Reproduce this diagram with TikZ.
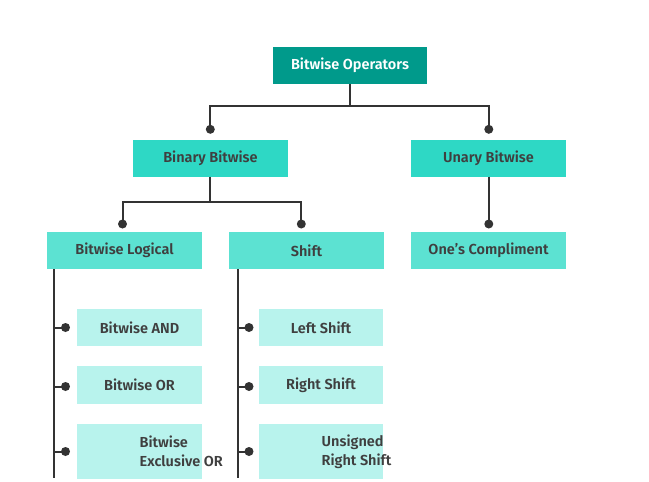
\documentclass[tikz,border=0pt]{standalone}
\usepackage{fontspec}
\setmainfont{Fira Sans}[BoldFont={Fira Sans SemiBold}]
\definecolor{topc}{HTML}{009A8B}
\definecolor{lvone}{HTML}{2ED8C5}
\definecolor{lvtwo}{HTML}{5CE2D2}
\definecolor{lvthree}{HTML}{B8F3ED}
\definecolor{txtgray}{HTML}{3F3F3F}
\definecolor{linegray}{HTML}{333333}
\tikzset{
  box/.style={draw=none, inner sep=0pt, minimum width=155pt, minimum height=37pt,
    font=\bfseries\fontsize{14.5}{17}\selectfont, text=txtgray},
  topbox/.style={box, fill=topc, text=white, minimum width=154pt},
  onebox/.style={box, fill=lvone},
  twobox/.style={box, fill=lvtwo},
  leafbox/.style={box, fill=lvthree, minimum width=125pt},
  conn/.style={draw=linegray, line width=2pt},
  dotn/.style={circle, fill=linegray, inner sep=0pt, minimum size=9pt},
  leaftext/.style={inner sep=0pt, align=left, anchor=west,
    font=\bfseries\fontsize{14.5}{19}\selectfont, text=txtgray}
}
\begin{document}
\begin{tikzpicture}[x=1pt, y=-1pt]
\useasboundingbox (0,0) rectangle (649,482);
% boxes
\node[topbox] (top) at (350,65.5) {Bitwise Operators};
\node[onebox] (bin) at (210.5,158) {Binary Bitwise};
\node[onebox] (una) at (488.5,158) {Unary Bitwise};
\node[twobox] (log) at (124.5,250.5) {Bitwise Logical};
\node[twobox] (shf) at (306.5,250.5) {Shift};
\node[twobox] (one) at (488.5,250.5) {One’s Compliment};
\node[leafbox] (band) at (139.5,327.5) {Bitwise AND};
\node[leafbox, minimum height=38pt] (bor) at (139.5,385) {Bitwise OR};
\node[leafbox, minimum height=55pt] (bxor) at (139.5,451.5) {};
\node[leaftext] (bxort) at (139.5,451.5) {Bitwise\\Exclusive OR};
\node[leafbox, minimum width=124pt] (lsh) at (321,327.5) {Left Shift};
\node[leafbox, minimum width=124pt, minimum height=38pt] (rsh) at (321,385) {Right Shift};
\node[leafbox, minimum width=124pt, minimum height=55pt] (ursh) at (321,451.5) {};
\node[leaftext] (urtxt) at (321.5,451.5) {Unsigned\\Right Shift};
% dots
\node[dotn] (d1) at (210.3,129.3) {};
\node[dotn] (d2) at (488.8,129.3) {};
\node[dotn] (d3) at (122.5,224) {};
\node[dotn] (d4) at (301.3,224) {};
\node[dotn] (d5) at (488.8,224) {};
\node[dotn] (d6) at (65.5,327.5) {};
\node[dotn] (d7) at (65.5,386.5) {};
\node[dotn] (d8) at (65.5,451.5) {};
\node[dotn] (d9) at (249,327.5) {};
\node[dotn] (d10) at (249,386.5) {};
\node[dotn] (d11) at (249,451.5) {};
% junctions
\coordinate (j1) at (349.7,106);
\coordinate (j2) at (210.3,201.5);
\coordinate (ltop) at (53.8,269);
\coordinate (lbot) at (53.8,478);
\coordinate (rtop) at (237.6,269);
\coordinate (rbot) at (237.6,478);
% connectors
\draw[conn] (top.south -| j1) -- (j1);
\draw[conn] (j1) -| (d1.center);
\draw[conn] (j1) -| (d2.center);
\draw[conn] (bin.south -| j2) -- (j2);
\draw[conn] (j2) -| (d3.center);
\draw[conn] (j2) -| (d4.center);
\draw[conn] (una.south -| d5) -- (d5.center);
\draw[conn] (ltop) -- (lbot);
\draw[conn] (rtop) -- (rbot);
\draw[conn] (d6.center -| ltop) -- (d6.center);
\draw[conn] (d7.center -| ltop) -- (d7.center);
\draw[conn] (d8.center -| ltop) -- (d8.center);
\draw[conn] (d9.center -| rtop) -- (d9.center);
\draw[conn] (d10.center -| rtop) -- (d10.center);
\draw[conn] (d11.center -| rtop) -- (d11.center);
\end{tikzpicture}
\end{document}
